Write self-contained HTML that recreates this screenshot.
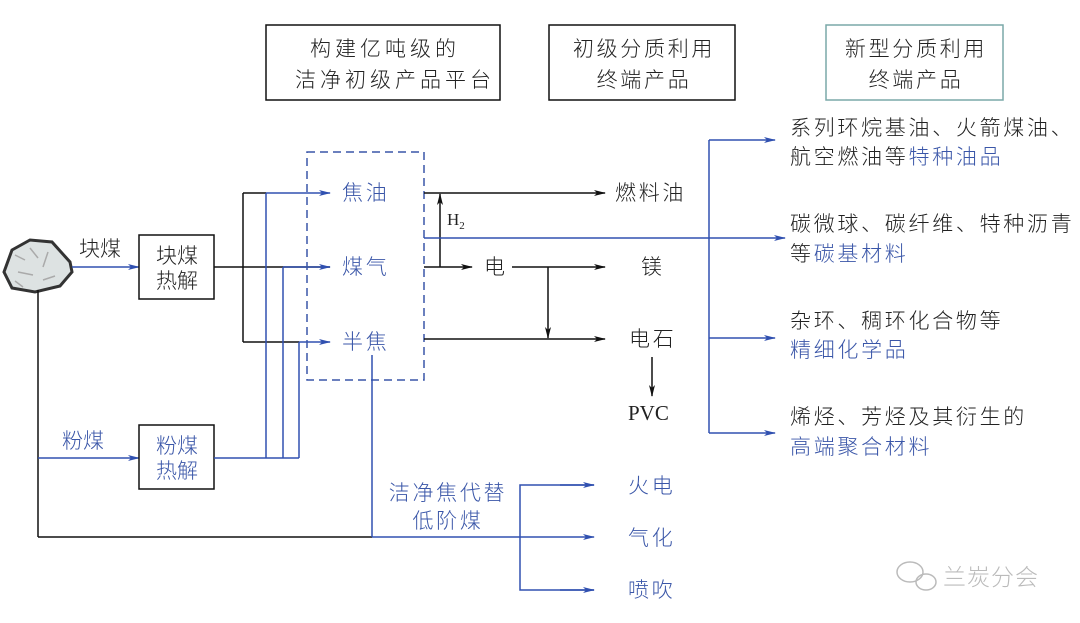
<!DOCTYPE html>
<html><head><meta charset="utf-8"><style>
html,body{margin:0;padding:0;background:#fff;}
svg{display:block;}
text{font-family:"Liberation Sans","Noto Sans CJK SC",sans-serif;font-size:21px;font-weight:300;}
.b{fill:#3a56a8;}
.k{fill:#222;}
.r{letter-spacing:2.7px;}
.t{letter-spacing:4px;}
</style></head><body>
<svg width="1080" height="623" viewBox="0 0 1080 623" xmlns="http://www.w3.org/2000/svg">
<defs>
<marker id="ab" markerWidth="12" markerHeight="8" refX="11" refY="4" orient="auto" markerUnits="userSpaceOnUse"><path d="M0,1 L12,4 L0,7 L3,4z" fill="#3050b0"/></marker>
<marker id="ak" markerWidth="12" markerHeight="8" refX="11" refY="4" orient="auto" markerUnits="userSpaceOnUse"><path d="M0,1 L12,4 L0,7 L3,4z" fill="#111"/></marker>
</defs>
<!-- top boxes -->
<rect x="266" y="25" width="234" height="75" fill="none" stroke="#111" stroke-width="1.5"/>
<text x="385" y="56" text-anchor="middle" class="k t">构建亿吨级的</text>
<text x="395" y="87" text-anchor="middle" class="k t">洁净初级产品平台</text>
<rect x="549" y="25" width="186" height="75" fill="none" stroke="#111" stroke-width="1.5"/>
<text x="644" y="56" text-anchor="middle" class="k r">初级分质利用</text>
<text x="644" y="87" text-anchor="middle" class="k r">终端产品</text>
<rect x="826" y="25" width="177" height="75" fill="none" stroke="#7aa8a8" stroke-width="1.5"/>
<text x="916" y="56" text-anchor="middle" class="k r">新型分质利用</text>
<text x="916" y="87" text-anchor="middle" class="k r">终端产品</text>

<!-- rock -->
<path d="M12,250 L30,240 L52,242 L70,262 L72,272 L60,286 L35,292 L12,288 L4,272z" fill="#dde2e2" stroke="#333" stroke-width="3"/>
<path d="M15,255 l10,5 m5,-12 l8,10 m10,-6 l-5,15 m-25,5 l15,3 m10,5 l12,-4 m-40,5 l8,6" stroke="#aaa" stroke-width="1.5" fill="none"/>

<!-- left flows -->
<text x="79" y="256" class="k">块煤</text>
<line x1="72" y1="267" x2="139" y2="267" stroke="#3050b0" stroke-width="1.5" marker-end="url(#ab)"/>
<rect x="139" y="235" width="75" height="64" fill="#fff" stroke="#111" stroke-width="1.5"/>
<text x="177" y="263" text-anchor="middle" class="k">块煤</text>
<text x="177" y="288" text-anchor="middle" class="k">热解</text>
<line x1="38" y1="290" x2="38" y2="537" stroke="#111" stroke-width="1.5"/>
<line x1="38" y1="537" x2="372" y2="537" stroke="#111" stroke-width="1.5"/>
<text x="62" y="448" class="b">粉煤</text>
<line x1="38" y1="458" x2="139" y2="458" stroke="#3050b0" stroke-width="1.5" marker-end="url(#ab)"/>
<rect x="139" y="425" width="75" height="64" fill="#fff" stroke="#111" stroke-width="1.5"/>
<text x="177" y="453" text-anchor="middle" class="b">粉煤</text>
<text x="177" y="478" text-anchor="middle" class="b">热解</text>

<polyline points="214,267 330,267" fill="none" stroke="#111" stroke-width="1.5"/>
<polyline points="243,193 243,342" fill="none" stroke="#111" stroke-width="1.5"/>
<line x1="243" y1="193" x2="266" y2="193" stroke="#111" stroke-width="1.5"/>
<line x1="243" y1="342" x2="299" y2="342" stroke="#111" stroke-width="1.5"/>
<polyline points="214,458 299,458" fill="none" stroke="#3050b0" stroke-width="1.5"/>
<line x1="266" y1="193" x2="266" y2="458" stroke="#3050b0" stroke-width="1.5"/>
<line x1="283" y1="267" x2="283" y2="458" stroke="#3050b0" stroke-width="1.5"/>
<line x1="299" y1="342" x2="299" y2="458" stroke="#3050b0" stroke-width="1.5"/>
<line x1="266" y1="193" x2="330" y2="193" stroke="#3050b0" stroke-width="1.5" marker-end="url(#ab)"/>
<line x1="283" y1="267" x2="330" y2="267" stroke="#3050b0" stroke-width="1.5" marker-end="url(#ab)"/>
<line x1="299" y1="342" x2="330" y2="342" stroke="#3050b0" stroke-width="1.5" marker-end="url(#ab)"/>

<rect x="307" y="152" width="117" height="228" fill="none" stroke="#3a56a8" stroke-width="1.5" stroke-dasharray="8,5"/>
<text x="342" y="200" class="b r">焦油</text>
<text x="342" y="274" class="b r">煤气</text>
<text x="342" y="349" class="b r">半焦</text>

<!-- middle -->
<line x1="424" y1="193" x2="605" y2="193" stroke="#111" stroke-width="1.5" marker-end="url(#ak)"/>
<text x="615" y="200" class="k r">燃料油</text>
<line x1="440" y1="267" x2="440" y2="194" stroke="#111" stroke-width="1.5" marker-end="url(#ak)"/>
<text x="447" y="225" class="k" style="font-size:17px;font-family:'Liberation Serif',serif">H<tspan style="font-size:11px" dy="4">2</tspan></text>
<line x1="424" y1="238" x2="785" y2="238" stroke="#3050b0" stroke-width="1.5" marker-end="url(#ab)"/>
<line x1="424" y1="267" x2="472" y2="267" stroke="#111" stroke-width="1.5" marker-end="url(#ak)"/>
<text x="484" y="274" class="k">电</text>
<line x1="512" y1="267" x2="605" y2="267" stroke="#111" stroke-width="1.5" marker-end="url(#ak)"/>
<text x="641" y="274" class="k">镁</text>
<line x1="548" y1="267" x2="548" y2="338" stroke="#111" stroke-width="1.5" marker-end="url(#ak)"/>
<line x1="424" y1="339" x2="605" y2="339" stroke="#111" stroke-width="1.5" marker-end="url(#ak)"/>
<text x="629" y="346" class="k r">电石</text>
<line x1="652" y1="357" x2="652" y2="396" stroke="#111" stroke-width="1.5" marker-end="url(#ak)"/>
<text x="628" y="420" class="k" style="font-family:'Liberation Serif',serif;font-size:21px">PVC</text>

<!-- bottom -->
<line x1="372" y1="355" x2="372" y2="537" stroke="#3050b0" stroke-width="1.5"/>
<line x1="372" y1="537" x2="594" y2="537" stroke="#3050b0" stroke-width="1.5" marker-end="url(#ab)"/>
<text x="448" y="500" text-anchor="middle" class="b r">洁净焦代替</text>
<text x="448" y="528" text-anchor="middle" class="b r">低阶煤</text>
<polyline points="594,485 520,485 520,590 594,590" fill="none" stroke="#3050b0" stroke-width="1.5"/>
<line x1="560" y1="485" x2="594" y2="485" stroke="#3050b0" stroke-width="1.5" marker-end="url(#ab)"/>
<line x1="560" y1="590" x2="594" y2="590" stroke="#3050b0" stroke-width="1.5" marker-end="url(#ab)"/>
<text x="628" y="493" class="b r">火电</text>
<text x="628" y="545" class="b r">气化</text>
<text x="628" y="597" class="b r">喷吹</text>

<!-- right -->
<line x1="709" y1="140" x2="709" y2="433" stroke="#3050b0" stroke-width="1.5"/>
<line x1="709" y1="140" x2="775" y2="140" stroke="#3050b0" stroke-width="1.5" marker-end="url(#ab)"/>
<line x1="709" y1="338" x2="775" y2="338" stroke="#3050b0" stroke-width="1.5" marker-end="url(#ab)"/>
<line x1="709" y1="433" x2="775" y2="433" stroke="#3050b0" stroke-width="1.5" marker-end="url(#ab)"/>
<text x="790" y="135" class="k r">系列环烷基油、火箭煤油、</text>
<text x="790" y="164" class="k r">航空燃油等<tspan class="b">特种油品</tspan></text>
<text x="790" y="231" class="k r">碳微球、碳纤维、特种沥青</text>
<text x="790" y="261" class="k r">等<tspan class="b">碳基材料</tspan></text>
<text x="790" y="328" class="k r">杂环、稠环化合物等</text>
<text x="790" y="357" class="b r">精细化学品</text>
<text x="790" y="424" class="k r">烯烃、芳烃及其衍生的</text>
<text x="790" y="454" class="b r">高端聚合材料</text>

<!-- watermark -->
<g fill="none" stroke="#bbb" stroke-width="1.5">
<ellipse cx="910" cy="572" rx="13" ry="10"/>
<ellipse cx="926" cy="582" rx="10" ry="8"/>
</g>
<text x="943" y="585" style="font-size:23px;fill:#bbb;letter-spacing:1px">兰炭分会</text>
</svg>
</body></html>
